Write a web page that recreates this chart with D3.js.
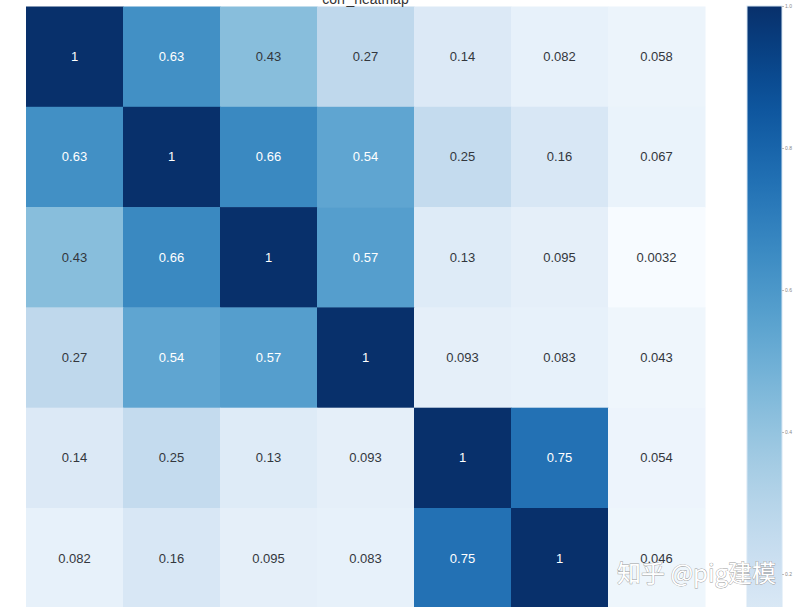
<!DOCTYPE html>
<html>
<head>
<meta charset="utf-8">
<script src="https://cdn.jsdelivr.net/npm/d3@7"></script>
<style>
  html, body { margin: 0; padding: 0; background: #ffffff; }
  svg { display: block; }
</style>
</head>
<body>
<script>
// ---- data (visible part of the correlation matrix: 6 rows x 7 columns) ----
const variables = ["v0", "v1", "v2", "v3", "v4", "v5", "v6"];
const row0 = [1, 0.63, 0.43, 0.27, 0.14, 0.082, 0.058];
const row1 = [0.63, 1, 0.66, 0.54, 0.25, 0.16, 0.067];
const row2 = [0.43, 0.66, 1, 0.57, 0.13, 0.095, 0.0032];
const row3 = [0.27, 0.54, 0.57, 1, 0.093, 0.083, 0.043];
const row4 = [0.14, 0.25, 0.13, 0.093, 1, 0.75, 0.054];
const row5 = [0.082, 0.16, 0.095, 0.083, 0.75, 1, 0.046];
const matrix = [row0, row1, row2, row3, row4, row5];
const colorbarTicks = [0.2, 0.4, 0.6, 0.8, 1.0];
const titleText = "corr_heatmap";
const watermarkText = "知乎 @pig建模";

// ---- layout ----
const W = 799, H = 607;
const svg = d3.select("body").append("svg").attr("width", W).attr("height", H);

const cells = [];
matrix.forEach((r, i) => r.forEach((v, j) => cells.push({ row: variables[i], col: variables[j], value: v })));

const vmin = d3.min(cells, d => d.value), vmax = d3.max(cells, d => d.value);

const x = d3.scaleBand().domain(variables).range([26, 705]).padding(0);
const y = d3.scaleBand().domain(variables).range([6.5, 6.5 + 7 * 100.3]).padding(0);
const color = d3.scaleSequential(d3.interpolateBlues).domain([vmin, vmax]);

const g = svg.append("g");
g.selectAll("rect.cell").data(cells).enter().append("rect")
  .attr("class", "cell")
  .attr("x", d => x(d.col))
  .attr("y", d => y(d.row))
  .attr("width", x.bandwidth() + 0.5)
  .attr("height", y.bandwidth() + 0.5)
  .attr("fill", d => color(d.value));

const fmt = v => String(+v.toPrecision(2));
g.selectAll("text.ann").data(cells).enter().append("text")
  .attr("class", "ann")
  .attr("x", d => x(d.col) + x.bandwidth() / 2)
  .attr("y", d => y(d.row) + y.bandwidth() / 2)
  .attr("text-anchor", "middle")
  .attr("dominant-baseline", "central")
  .attr("font-family", "Liberation Sans, Arial, sans-serif")
  .attr("font-size", 13)
  .attr("fill", d => d.value > 0.5 ? "#ffffff" : "#33373d")
  .text(d => fmt(d.value));

// title
svg.append("text")
  .attr("x", (26 + 705) / 2)
  .attr("y", 4)
  .attr("text-anchor", "middle")
  .attr("font-family", "Liberation Sans, Arial, sans-serif")
  .attr("font-size", 14)
  .attr("fill", "#333")
  .text(titleText);

// colorbar
const cbX = 747, cbW = 35;
const cbScale = d3.scaleLinear().domain([vmin, vmax]).range([6 + (1 - vmin) * 710, 6]);
const defs = svg.append("defs");
const grad = defs.append("linearGradient").attr("id", "cbgrad")
  .attr("x1", 0).attr("y1", 1).attr("x2", 0).attr("y2", 0);
d3.range(0, 1.0001, 0.05).forEach(t => {
  grad.append("stop").attr("offset", t).attr("stop-color", color(vmin + t * (vmax - vmin)));
});
svg.append("rect")
  .attr("x", cbX).attr("y", cbScale(vmax))
  .attr("width", cbW).attr("height", cbScale(vmin) - cbScale(vmax))
  .attr("fill", "url(#cbgrad)")
  .attr("stroke", "#d6e6f4").attr("stroke-width", 1);

const cbAxis = svg.append("g")
  .attr("transform", `translate(${cbX + cbW},0)`)
  .call(d3.axisRight(cbScale).tickValues(colorbarTicks).tickFormat(d3.format(".1f")).tickSize(2).tickPadding(1));
cbAxis.select(".domain").remove();
cbAxis.selectAll("line").attr("stroke", "#bbb");
cbAxis.selectAll("text").attr("font-size", 5).attr("fill", "#888")
  .attr("font-family", "Liberation Sans, Arial, sans-serif");

// watermark
svg.append("text")
  .attr("x", 617)
  .attr("y", 582)
  .attr("font-family", "Noto Sans CJK SC, sans-serif")
  .attr("font-size", 24)
  .attr("fill", "#ffffff")
  .attr("stroke", "#9a9a9a")
  .attr("stroke-width", 0.8)
  .attr("paint-order", "stroke")
  .text(watermarkText);
</script>
</body>
</html>
